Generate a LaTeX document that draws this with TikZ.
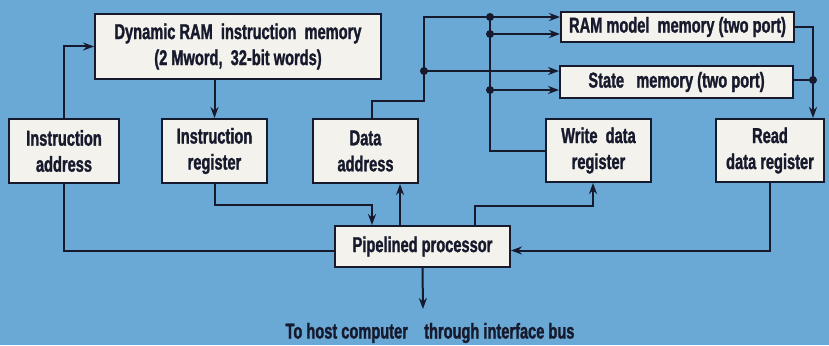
\documentclass[tikz,border=0pt]{standalone}
\usepackage{fontspec}
\setmainfont{Liberation Sans}[FakeStretch=0.68, BoldFeatures={FakeBold=1.3}]
\usetikzlibrary{arrows.meta}
\definecolor{bgblue}{HTML}{6AA8D6}
\definecolor{boxfill}{HTML}{F4F2EC}
\definecolor{ink}{HTML}{161A2C}
\tikzset{
  blk/.style={draw=ink, line width=2pt, fill=boxfill, text=ink, font=\fontsize{21.5}{26}\selectfont\bfseries, align=center, inner sep=0pt},
  wire/.style={draw=ink, line width=2pt},
  arr/.style={wire, -{Stealth[length=11pt,width=8pt]}},
  jdot/.style={circle, fill=ink, inner sep=0pt, minimum size=8pt}
}
\begin{document}
\begin{tikzpicture}[x=1pt,y=-1pt]
\fill[bgblue] (0,0) rectangle (829,345);
\useasboundingbox (0,0) rectangle (829,345);
% boxes
\node[blk, minimum width=286pt, minimum height=65pt] (dram) at (238,46.5) {Dynamic RAM\ \ instruction\ \ memory\\(2 Mword,\ \ 32-bit words)};
\node[blk, minimum width=110pt, minimum height=64pt] (ia) at (64,151) {Instruction\\address};
\node[blk, minimum width=105pt, minimum height=64pt] (ir) at (214.5,151) {Instruction\\register};
\node[blk, minimum width=105pt, minimum height=64pt] (da) at (365.5,151) {Data\\address};
\node[blk, minimum width=233pt, minimum height=30pt] (ram) at (677.5,27) {RAM model\ \ memory (two port)};
\node[blk, minimum width=233pt, minimum height=32pt] (st) at (676.5,82) {State\ \ \ memory (two port)};
\node[blk, minimum width=105pt, minimum height=63pt] (wd) at (598.5,150.5) {Write\ \ data\\register};
\node[blk, minimum width=108pt, minimum height=63pt] (rd) at (770,150.5) {Read\\data register};
\node[blk, minimum width=175pt, minimum height=41pt] (pp) at (422.5,246.5) {Pipelined processor};
\node[text=ink, font=\fontsize{21.5}{26}\selectfont\bfseries, inner sep=0pt] (host) at (430,333) {To host computer\ \ \ \ through interface bus};
% junctions
\node[jdot] (jA) at (424,71) {};
\node[jdot] (jB) at (490,17) {};
\node[jdot] (jC) at (490,34) {};
\node[jdot] (jD) at (490,90) {};
\node[jdot] (jE) at (813,80) {};
\coordinate (hostarrow) at (423,309);
% connectors
\draw[arr] (ia.north) |- (dram.west);
\draw[arr] (dram.south -| ir.north) -- (ir.north);
\draw[wire] (ia.south) |- ([yshift=-4.5pt]pp.west);
\draw[arr] (ir.south) |- ([xshift=-50.5pt,yshift=20pt]pp.north) -- ([xshift=-50.5pt]pp.north);
\draw[arr] ([xshift=-22.5pt]pp.north) -- ([xshift=-22.5pt]pp.north |- da.south);
\draw[wire] ([xshift=6.5pt]da.north) |- (424,101) -- (jA.center) -- (424,17) -- (jB.center);
\draw[arr] (jB.center) -- ([yshift=10pt]ram.west);
\draw[arr] (jA.center) -- ([yshift=11pt]st.west);
\draw[arr] (jC.center) -- ([yshift=-7pt]ram.west);
\draw[arr] (jD.center) -- ([yshift=-8pt]st.west);
\draw[wire] (jB.center) -- (jC.center) -- (jD.center) |- (wd.west);
\draw[arr] ([xshift=52.5pt]pp.north) |- ([xshift=-5.5pt,yshift=-23pt]wd.south) -- ([xshift=-5.5pt]wd.south);
\draw[wire] (ram.east) -| (jE.center);
\draw[wire] ([yshift=2pt]st.east) -- (jE.center);
\draw[arr] (jE.center) -- ([xshift=43pt]rd.north);
\draw[arr] (rd.south) |- ([yshift=-4pt]pp.east);
\draw[arr] (pp.south) -- (hostarrow);
\end{tikzpicture}
\end{document}
